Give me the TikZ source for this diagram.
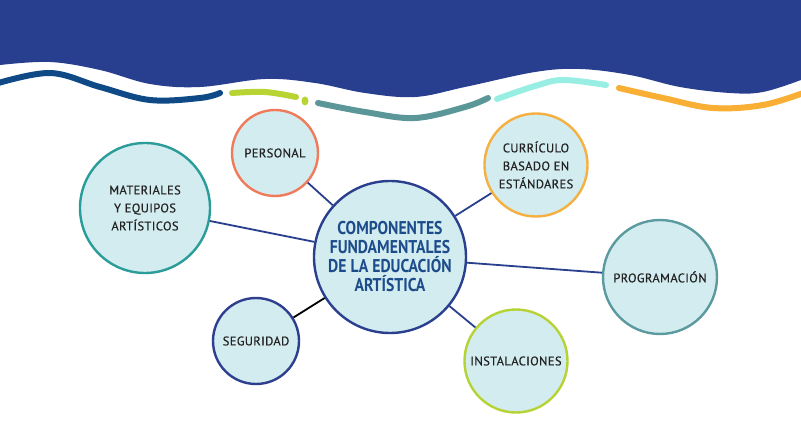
\documentclass[tikz,border=0pt]{standalone}
\usepackage{fontspec}
\setmainfont{PT Sans}
\newfontfamily\lblfont[LetterSpace=3, FakeBold=0.5]{PT Sans}
\newfontfamily\ctrfont[FakeStretch=0.85]{PT Sans}
\definecolor{bandblue}{HTML}{283E8E}
\definecolor{strokeblue}{HTML}{0F4A87}
\definecolor{strokelime}{HTML}{B8D433}
\definecolor{stroketeal}{HTML}{5B9799}
\definecolor{strokecyan}{HTML}{99EEE3}
\definecolor{strokeorange}{HTML}{F9AE34}
\definecolor{bubblefill}{HTML}{D3ECF0}
\definecolor{labeltext}{HTML}{222222}
\definecolor{ctrtext}{HTML}{1D4C8B}
\definecolor{ctrborder}{HTML}{2A3F8E}
\definecolor{cpersonal}{HTML}{F07B5A}
\definecolor{cmateriales}{HTML}{2A9D9A}
\definecolor{ccurriculo}{HTML}{F5B041}
\definecolor{cprogram}{HTML}{5B9A9E}
\definecolor{cseguridad}{HTML}{2E3F8F}
\definecolor{cinstal}{HTML}{B5D334}
\definecolor{linkblue}{HTML}{2A3F8E}
\tikzset{
  bubble/.style={circle, fill=bubblefill, line width=2.4pt, inner sep=0pt, align=center,
    font=\lblfont\fontsize{12.5}{18}\selectfont, text=labeltext},
  wavestroke/.style={line width=6pt, line cap=round},
  link/.style={line width=1.8pt, draw=linkblue}
}
\begin{document}
\begin{tikzpicture}[x=1pt,y=-1pt]
\useasboundingbox (0,0) rectangle (801,422);
\fill[white] (0,0) rectangle (801,422);
% top band
\fill[bandblue] (0,0) -- (0,65) -- plot[smooth, tension=0.6] coordinates {(0,65) (50,62) (100,70) (150,84) (200,87) (265,79) (315,83) (365,93) (415,97) (465,87) (535,72) (580,69) (630,75) (680,87) (730,93) (763,92) (801,80)} -- (801,0) -- cycle;
% wave strokes
\draw[wavestroke, strokeblue] plot[smooth, tension=0.6] coordinates {(-5,84) (50,73) (100,87) (150,100) (200,98) (220,93)};
\draw[wavestroke, strokelime] plot[smooth, tension=0.6] coordinates {(232,93) (265,92) (296,97)};
\fill[strokelime] (305,101) ellipse [x radius=3.5pt, y radius=4.5pt];
\draw[wavestroke, stroketeal] plot[smooth, tension=0.6] coordinates {(318,103) (365,112) (415,118) (465,107) (488,98)};
\draw[wavestroke, strokecyan] plot[smooth, tension=0.6] coordinates {(497,99) (535,86) (563,80) (606,85)};
\draw[wavestroke, strokeorange] plot[smooth, tension=0.6] coordinates {(619,88) (663,98) (713,108) (763,105) (806,92)};
% bubbles
\node[bubble, draw=ctrborder, minimum size=152pt, text=ctrtext,
  font=\ctrfont\bfseries\fontsize{18.5}{19}\selectfont] (ctr) at (390,257)
  {COMPONENTES\\FUNDAMENTALES\\DE LA EDUCACIÓN\\ARTÍSTICA};
\node[bubble, draw=cpersonal, minimum size=86pt] (personal) at (275,153) {PERSONAL};
\node[bubble, draw=cmateriales, minimum size=130pt] (materiales) at (145,208) {MATERIALES\\Y EQUIPOS\\ARTÍSTICOS};
\node[bubble, draw=ccurriculo, minimum size=103pt] (curriculo) at (536,165) {CURRÍCULO\\BASADO EN\\ESTÁNDARES};
\node[bubble, draw=cprogram, minimum size=114pt] (program) at (660,277) {PROGRAMACIÓN};
\node[bubble, draw=cseguridad, minimum size=86pt] (seguridad) at (256,341) {SEGURIDAD};
\node[bubble, draw=cinstal, minimum size=103pt] (instal) at (516,361) {INSTALACIONES};
% links
\draw[link] (personal) -- (ctr);
\draw[link] (materiales) -- (ctr);
\draw[link] (curriculo) -- (ctr);
\draw[link] (program) -- (ctr);
\draw[link, draw=black] (seguridad) -- (ctr);
\draw[link] (instal) -- (ctr);
\end{tikzpicture}
\end{document}
